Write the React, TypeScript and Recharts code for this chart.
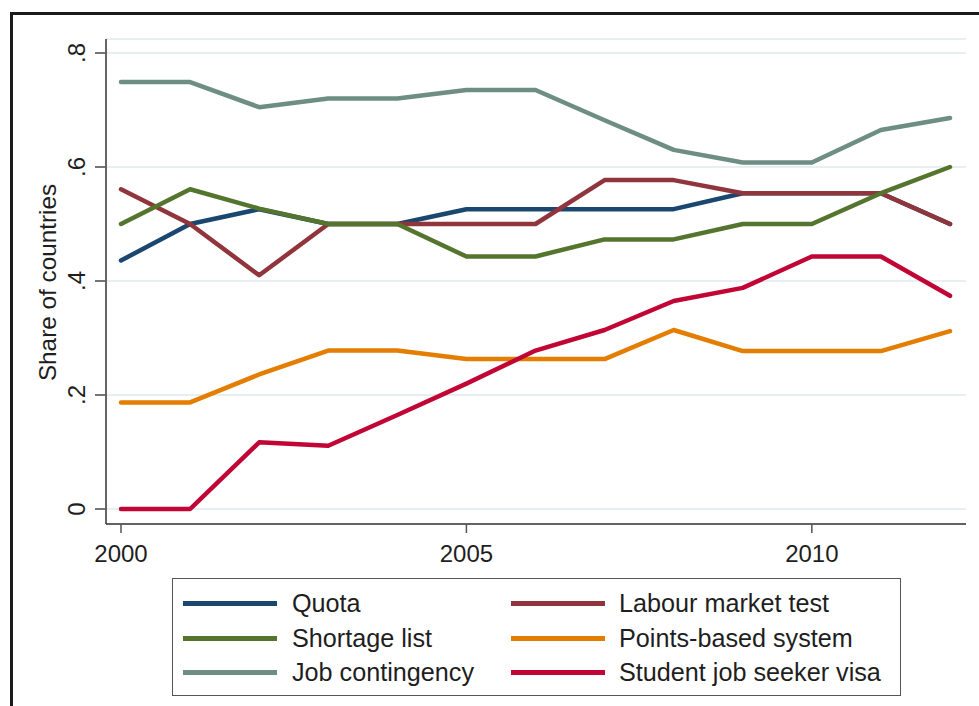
import React from 'react';
import { LineChart, Line, XAxis, YAxis, CartesianGrid, Legend } from 'recharts';

const years = [2000, 2001, 2002, 2003, 2004, 2005, 2006, 2007, 2008, 2009, 2010, 2011, 2012];
const quota = [0.436, 0.5, 0.526, 0.5, 0.5, 0.526, 0.526, 0.526, 0.526, 0.554, 0.554, 0.554, 0.5];
const labourMarketTest = [0.561, 0.5, 0.41, 0.5, 0.5, 0.5, 0.5, 0.577, 0.577, 0.554, 0.554, 0.554, 0.5];
const shortageList = [0.5, 0.561, 0.527, 0.5, 0.5, 0.443, 0.443, 0.473, 0.473, 0.5, 0.5, 0.554, 0.6];
const pointsBased = [0.187, 0.187, 0.236, 0.278, 0.278, 0.263, 0.263, 0.263, 0.314, 0.277, 0.277, 0.277, 0.312];
const jobContingency = [0.749, 0.749, 0.705, 0.72, 0.72, 0.735, 0.735, 0.682, 0.63, 0.608, 0.608, 0.665, 0.686];
const studentJobSeeker = [0, 0, 0.117, 0.111, 0.165, 0.22, 0.278, 0.314, 0.365, 0.388, 0.443, 0.443, 0.374];

const seriesKeys = ['quota', 'labour', 'shortage', 'points', 'job', 'student'];
const seriesNames = [
  'Quota',
  'Labour market test',
  'Shortage list',
  'Points-based system',
  'Job contingency',
  'Student job seeker visa',
];
const seriesColors = ['#1a476f', '#90353b', '#55752f', '#e37e00', '#6e8e84', '#c10534'];
const seriesValues = [quota, labourMarketTest, shortageList, pointsBased, jobContingency, studentJobSeeker];

const xTicks = [2000, 2005, 2010];
const yTicks = [0, 0.2, 0.4, 0.6, 0.8];
const yTickLabels = ['0', '.2', '.4', '.6', '.8'];
const yTitle = 'Share of countries';

const data = years.map((year, i) => {
  const row: Record<string, number> = { year };
  seriesKeys.forEach((k, s) => {
    row[k] = seriesValues[s][i];
  });
  return row;
});

const FONT = '"Liberation Sans", Arial, Helvetica, sans-serif';
const TEXT = '#1e1e1e';

const YTick = (props: any) => {
  const { x, y, payload } = props;
  const idx = yTicks.indexOf(payload.value);
  const label = idx >= 0 ? yTickLabels[idx] : String(payload.value);
  return (
    <text
      transform={`translate(${x - 17},${y}) rotate(-90)`}
      textAnchor="middle"
      dominantBaseline="central"
      fontSize={24}
      fontFamily={FONT}
      fill={TEXT}
    >
      {label}
    </text>
  );
};

const YTitle = (props: any) => {
  const vb = props.viewBox || {};
  const cy = (vb.y ?? 39) + (vb.height ?? 485) / 2;
  return (
    <text
      transform={`translate(47,${cy + 1}) rotate(-90)`}
      textAnchor="middle"
      dominantBaseline="central"
      fontSize={24.3}
      fontFamily={FONT}
      fill={TEXT}
    >
      {yTitle}
    </text>
  );
};

const rowCenters = [24, 59, 93];

const LegendBox = (props: any) => {
  const payload: any[] = (props.payload || []).slice();
  payload.sort((a, b) => seriesNames.indexOf(a.value) - seriesNames.indexOf(b.value));
  return (
    <div
      style={{
        position: 'relative',
        width: 729,
        height: 118,
        boxSizing: 'border-box',
        border: '1.5px solid #555',
        background: '#fff',
      }}
    >
      {payload.map((e, i) => {
        const col = i % 2;
        const row = Math.floor(i / 2);
        const cy = rowCenters[row];
        const lx = col === 0 ? 10 : 338;
        const tx = col === 0 ? 119 : 446;
        return (
          <React.Fragment key={e.value}>
            <div
              style={{
                position: 'absolute',
                left: lx,
                top: cy - 2.5,
                width: 94,
                height: 5.5,
                background: e.color,
              }}
            />
            <div
              style={{
                position: 'absolute',
                left: tx,
                top: cy - 15,
                height: 30,
                lineHeight: '30px',
                fontSize: 25.2,
                fontFamily: FONT,
                color: TEXT,
                whiteSpace: 'nowrap',
              }}
            >
              {e.value}
            </div>
          </React.Fragment>
        );
      })}
    </div>
  );
};

export default function App() {
  return (
    <div
      style={{
        position: 'absolute',
        left: 0,
        top: 0,
        width: 979,
        height: 706,
        overflow: 'hidden',
        background: '#fff',
      }}
    >
      <div
        style={{
          position: 'absolute',
          left: 10,
          top: 12,
          width: 1200,
          height: 1200,
          borderTop: '3px solid #1a1a1a',
          borderLeft: '3px solid #1a1a1a',
        }}
      />
      <div style={{ position: 'absolute', left: 0, top: 0 }}>
        <LineChart
          width={979}
          height={706}
          data={data}
          margin={{ top: 39, right: 13, left: 0, bottom: 142 }}
        >
          <CartesianGrid vertical={false} stroke="#e8eff2" strokeWidth={2} />
          <XAxis
            dataKey="year"
            type="number"
            domain={[2000, 2012]}
            ticks={xTicks}
            padding={{ left: 15, right: 16 }}
            height={40}
            tickSize={9}
            tickMargin={12}
            axisLine={{ stroke: '#333', strokeWidth: 1.5 }}
            tickLine={{ stroke: '#555', strokeWidth: 1.5 }}
            tick={{ fontSize: 24, fill: TEXT, fontFamily: FONT }}
          />
          <YAxis
            type="number"
            domain={[0, 0.8]}
            ticks={yTicks}
            padding={{ top: 14, bottom: 15 }}
            width={106}
            tickSize={11}
            tickMargin={2}
            axisLine={{ stroke: '#333', strokeWidth: 1.5 }}
            tickLine={{ stroke: '#666', strokeWidth: 1.8 }}
            tick={<YTick />}
            label={<YTitle />}
          />
          <Legend
            layout="vertical"
            align="center"
            verticalAlign="middle"
            wrapperStyle={{ position: 'absolute', left: 172, top: 578, width: 729, height: 118 }}
            content={<LegendBox />}
          />
          {seriesKeys.map((k, s) => (
            <Line
              key={k}
              type="linear"
              dataKey={k}
              name={seriesNames[s]}
              stroke={seriesColors[s]}
              strokeWidth={4.5}
              strokeLinecap="round"
              strokeLinejoin="round"
              dot={false}
              activeDot={false}
              isAnimationActive={false}
            />
          ))}
        </LineChart>
      </div>
    </div>
  );
}
